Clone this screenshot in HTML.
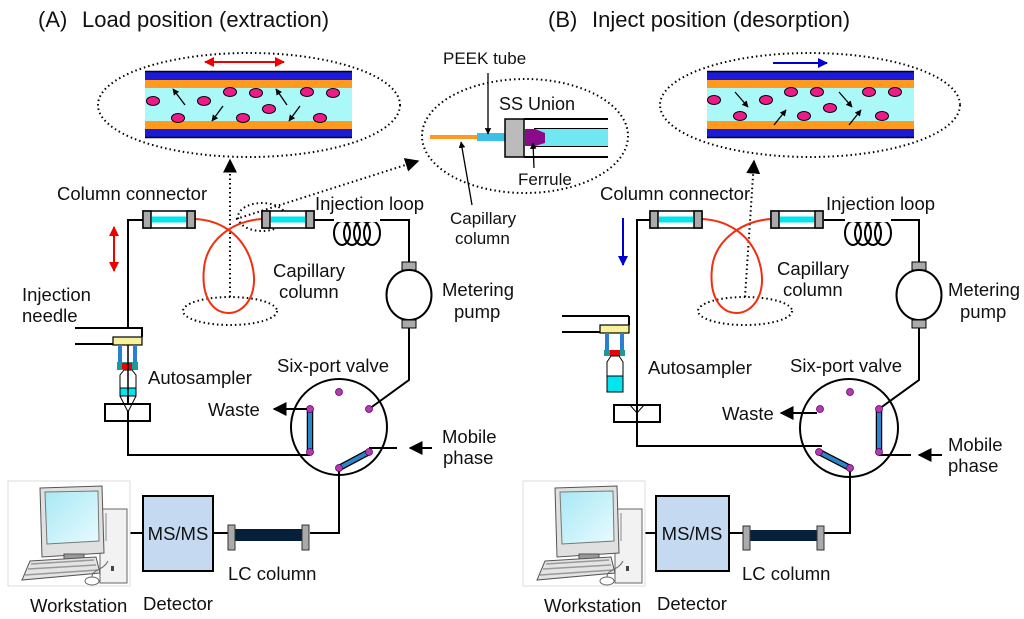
<!DOCTYPE html>
<html><head><meta charset="utf-8"><style>
html,body{margin:0;padding:0;background:#fff;}
svg{display:block;}
text{font-family:"Liberation Sans",Arial,sans-serif;fill:#111;}
</style></head><body>
<svg width="1024" height="619" viewBox="0 0 1024 619" xmlns="http://www.w3.org/2000/svg">
<defs>
<marker id="ab" viewBox="0 0 10 10" refX="9" refY="5" markerWidth="7" markerHeight="7" orient="auto-start-reverse"><path d="M0,0 L10,5 L0,10 z" fill="#000"/></marker>
<marker id="ar" viewBox="0 0 10 10" refX="9" refY="5" markerWidth="5" markerHeight="5" orient="auto-start-reverse"><path d="M0,0 L10,5 L0,10 z" fill="#e00"/></marker>
<marker id="abl" viewBox="0 0 10 10" refX="9" refY="5" markerWidth="5" markerHeight="5" orient="auto-start-reverse"><path d="M0,0 L10,5 L0,10 z" fill="#0000cc"/></marker>
<marker id="as" viewBox="0 0 10 10" refX="9" refY="5" markerWidth="5" markerHeight="5" orient="auto"><path d="M0,0 L10,5 L0,10 z" fill="#000"/></marker>
<linearGradient id="scr" x1="0" y1="0" x2="1" y2="1"><stop offset="0" stop-color="#a8e8f4"/><stop offset="1" stop-color="#e8fbff"/></linearGradient>
<g id="conn"><rect x="0" y="0" width="52" height="17" fill="#fff" stroke="#000" stroke-width="1.5"/><rect x="0" y="0" width="8" height="17" fill="#aaa" stroke="#000" stroke-width="1.5"/><rect x="44" y="0" width="8" height="17" fill="#aaa" stroke="#000" stroke-width="1.5"/><rect x="9" y="5.5" width="34" height="6" fill="#00e5ee"/></g>
<g id="coil" fill="none" stroke="#000" stroke-width="2"><ellipse cx="8" cy="12" rx="8" ry="12"/><ellipse cx="18" cy="12" rx="8" ry="12"/><ellipse cx="28" cy="12" rx="8" ry="12"/><ellipse cx="38" cy="12" rx="8" ry="12"/></g>
<g id="pump"><rect x="-7" y="0" width="14" height="8" fill="#aaa" stroke="#000" stroke-width="1"/><ellipse cx="0" cy="33" rx="22.5" ry="25" fill="#fff" stroke="#000" stroke-width="2"/><rect x="-7" y="58" width="14" height="8" fill="#aaa" stroke="#000" stroke-width="1"/></g>
<g id="tube"><rect x="0" y="0" width="207" height="67" fill="#aaf8f8"/><rect x="0" y="0" width="207" height="9" fill="#1a1ad8"/><rect x="0" y="9" width="207" height="8" fill="#ff9a1e"/><rect x="0" y="50" width="207" height="8" fill="#ff9a1e"/><rect x="0" y="58" width="207" height="9" fill="#1a1ad8"/><line x1="0" y1="0.5" x2="207" y2="0.5" stroke="#000" stroke-width="1.5"/><line x1="0" y1="66.5" x2="207" y2="66.5" stroke="#000" stroke-width="1.5"/></g>
<g id="ws"><rect x="0" y="0" width="122" height="105" fill="#fff" stroke="#ddd"/>
<rect x="92" y="28" width="27" height="74" fill="#f2f2f2" stroke="#666"/><line x1="98" y1="32" x2="98" y2="60" stroke="#888"/><rect x="103" y="85" width="3" height="5" fill="#444"/>
<polygon points="32,7 94,5 96,72 34,76" fill="#e0e0e0" stroke="#555"/><polygon points="37,11 90,10 91,60 39,63" fill="url(#scr)" stroke="#777"/>
<rect x="56" y="73" width="20" height="9" fill="#999" stroke="#555"/>
<polygon points="22,80 88,76 92,92 14,99" fill="#e4e4e4" stroke="#555"/>
<path d="M23,83 L86,79 M20,88 L88,84 M17,94 L90,89" stroke="#999" stroke-width="1.5"/>
<ellipse cx="84" cy="100" rx="7" ry="4" fill="#fff" stroke="#666"/><path d="M84,96 C84,88 95,90 100,80" fill="none" stroke="#666"/></g>
</defs>

<!-- ============ PANEL A ============ -->
<text x="38" y="27" font-size="22">(A)</text><text x="82" y="27" font-size="22">Load position (extraction)</text>
<ellipse cx="249" cy="105" rx="151" ry="52" fill="none" stroke="#000" stroke-width="2" stroke-dasharray="1.5,3"/>
<use href="#tube" x="145" y="71"/>
<line x1="205" y1="62" x2="284" y2="62" stroke="#e00" stroke-width="2" marker-start="url(#ar)" marker-end="url(#ar)"/>
<g fill="#ee1a8a" stroke="#000" stroke-width="1">
<ellipse cx="153" cy="101" rx="6.5" ry="4.5"/><ellipse cx="178" cy="118" rx="6.5" ry="4.5"/><ellipse cx="204" cy="101" rx="6.5" ry="4.5"/><ellipse cx="230" cy="92" rx="6.5" ry="4.5"/><ellipse cx="243" cy="118" rx="6.5" ry="4.5"/><ellipse cx="256" cy="93" rx="6.5" ry="4.5"/><ellipse cx="269" cy="109" rx="6.5" ry="4.5"/><ellipse cx="307" cy="92" rx="6.5" ry="4.5"/><ellipse cx="320" cy="118" rx="6.5" ry="4.5"/><ellipse cx="333" cy="93" rx="6.5" ry="4.5"/></g>
<g stroke="#000" stroke-width="1.3" marker-end="url(#as)">
<line x1="185" y1="105" x2="173" y2="89"/><line x1="223" y1="106" x2="212" y2="121"/><line x1="287" y1="105" x2="276" y2="89"/><line x1="300" y1="106" x2="289" y2="121"/></g>
<line x1="230" y1="297" x2="230" y2="160" stroke="#000" stroke-width="2" stroke-dasharray="1.5,3" marker-end="url(#ab)"/>
<ellipse cx="230" cy="311" rx="47" ry="14" fill="none" stroke="#000" stroke-width="2" stroke-dasharray="1.5,3"/>
<ellipse cx="262" cy="217" rx="24" ry="14" fill="none" stroke="#000" stroke-width="2" stroke-dasharray="1.5,3"/>
<line x1="236" y1="219" x2="418" y2="161" stroke="#000" stroke-width="2" stroke-dasharray="1.5,3" marker-end="url(#ab)"/>
<!-- union inset -->
<ellipse cx="525" cy="136" rx="103" ry="57" fill="none" stroke="#000" stroke-width="2" stroke-dasharray="1.5,3"/>
<line x1="430" y1="137" x2="478" y2="137" stroke="#ff9a1e" stroke-width="4"/>
<rect x="477" y="133" width="29" height="8" fill="#3cc0e8"/>
<rect x="534" y="129" width="74" height="17" fill="#6fe8f2"/>
<line x1="524" y1="119" x2="608" y2="119" stroke="#000" stroke-width="2"/><line x1="524" y1="157" x2="608" y2="157" stroke="#000" stroke-width="2"/>
<line x1="534" y1="128.5" x2="608" y2="128.5" stroke="#000"/><line x1="534" y1="146.5" x2="608" y2="146.5" stroke="#000"/>
<rect x="505" y="119" width="19" height="38" fill="#bbb" stroke="#000" stroke-width="1.5"/>
<polygon points="525,129 535,129 545,133 545,143 535,146 525,146" fill="#8a0a8a"/>
<text x="443" y="64" font-size="17">PEEK tube</text>
<line x1="488" y1="73" x2="488" y2="134" stroke="#000" stroke-width="1.3" marker-end="url(#as)"/>
<text x="499" y="110" font-size="18">SS Union</text>
<text x="518" y="185" font-size="17">Ferrule</text>
<line x1="534" y1="168" x2="533" y2="143" stroke="#000" stroke-width="1.3" marker-end="url(#as)"/>
<text x="450" y="224" font-size="17">Capillary</text><text x="455" y="244" font-size="17">column</text>
<line x1="472" y1="205" x2="461" y2="142" stroke="#000" stroke-width="1.3" marker-end="url(#as)"/>
<!-- flow path A -->
<g fill="none" stroke="#000" stroke-width="2">
<polyline points="143,220 128,220 128,328 75,328"/><polyline points="128,328 142,328 142,337"/><line x1="75" y1="344" x2="113" y2="344"/>
<polyline points="313,220 409,220 409,262"/>
<polyline points="409,328 409,380 369,409"/>
<polyline points="128,395 128,455 310,455"/>
<polyline points="369,448 397,448"/>
<polyline points="339,468 339,533 310,533"/>
<line x1="228" y1="533" x2="213" y2="533"/><line x1="143" y1="533" x2="122" y2="533"/>
</g>
<path d="M195,219 C218,220 240,232 250,258 C262,292 245,313 229,313 C212,313 201,296 204,268 C207,240 232,221 262,219" fill="none" stroke="#f03010" stroke-width="2"/>
<use href="#conn" x="143" y="211"/><use href="#conn" x="262" y="211"/>
<use href="#coil" x="334" y="221"/>
<rect x="334" y="219" width="46" height="3" fill="#fff"/>
<use href="#pump" x="409" y="262"/>
<line x1="114" y1="227" x2="114" y2="271" stroke="#e00" stroke-width="2" marker-start="url(#ar)" marker-end="url(#ar)"/>
<text x="57" y="200" font-size="18.5">Column connector</text>
<text x="315" y="210" font-size="18.5">Injection loop</text>
<text x="273" y="277" font-size="18.5">Capillary</text><text x="279" y="298" font-size="18.5">column</text>
<text x="442" y="296" font-size="18.5">Metering</text><text x="454" y="318" font-size="18.5">pump</text>
<text x="22" y="301" font-size="18.5">Injection</text><text x="22" y="322" font-size="18.5">needle</text>
<!-- needle/vial A -->
<rect x="113" y="337" width="29" height="8" fill="#f6f29a" stroke="#000" stroke-width="1.2"/>
<rect x="118" y="345" width="4" height="17" fill="#2a7fd0"/><rect x="133" y="345" width="4" height="17" fill="#2a7fd0"/>
<rect x="117" y="362" width="21" height="8" fill="#1a9a9a"/><rect x="122" y="363" width="10" height="6" fill="#e00"/>
<path d="M120,375 L124,370 L132,370 L136,375 L136,395 L120,395 Z" fill="#fff" stroke="#000"/>
<rect x="120" y="388" width="16" height="8" fill="#00e5ee" stroke="#000"/>
<line x1="128" y1="345" x2="128" y2="398" stroke="#000" stroke-width="1.5"/>
<rect x="105" y="404" width="45" height="17" fill="#fff" stroke="#000" stroke-width="2"/>
<path d="M120,396 L128,412 L136,396" fill="none" stroke="#000"/>
<line x1="128" y1="410" x2="128" y2="455" stroke="#000" stroke-width="2"/>
<text x="148" y="384" font-size="18.5">Autosampler</text>
<text x="277" y="372" font-size="18.5">Six-port valve</text>
<!-- valve A -->
<circle cx="339" cy="427" r="48" fill="none" stroke="#000" stroke-width="2"/>
<line x1="310" y1="409" x2="310" y2="452" stroke="#000" stroke-width="6.5"/><line x1="310" y1="409" x2="310" y2="452" stroke="#2a86c8" stroke-width="4"/>
<line x1="339" y1="468" x2="369" y2="452" stroke="#000" stroke-width="6.5"/><line x1="339" y1="468" x2="369" y2="452" stroke="#2a86c8" stroke-width="4"/>
<g fill="#b03cb0" stroke="#600060" stroke-width="0.8"><circle cx="339" cy="392" r="3.5"/><circle cx="369" cy="409" r="3.5"/><circle cx="310" cy="409" r="3.5"/><circle cx="310" cy="452" r="3.5"/><circle cx="369" cy="452" r="3.5"/><circle cx="339" cy="468" r="3.5"/></g>
<line x1="307" y1="409" x2="274" y2="409" stroke="#000" stroke-width="2" marker-end="url(#ab)"/>
<text x="208" y="416" font-size="18.5">Waste</text>
<line x1="432" y1="448" x2="410" y2="448" stroke="#000" stroke-width="2" marker-end="url(#ab)"/>
<text x="442" y="443" font-size="18.5">Mobile</text><text x="443" y="464" font-size="18.5">phase</text>
<!-- bottom A -->
<rect x="235" y="529" width="67" height="12" fill="#06203a"/>
<rect x="228" y="525" width="7" height="25" fill="#aaa" stroke="#333"/><rect x="302" y="525" width="7" height="25" fill="#aaa" stroke="#333"/>
<rect x="143" y="496" width="70" height="75" fill="#c5d9f1" stroke="#000" stroke-width="2"/>
<text x="178" y="540" font-size="18.5" text-anchor="middle">MS/MS</text>
<use href="#ws" x="8" y="481"/>
<text x="228" y="580" font-size="18.5">LC column</text>
<text x="30" y="612" font-size="18.5">Workstation</text>
<text x="143" y="610" font-size="18.5">Detector</text>

<!-- ============ PANEL B ============ -->
<text x="548" y="27" font-size="22">(B)</text><text x="592" y="27" font-size="22">Inject position (desorption)</text>
<ellipse cx="810" cy="105" rx="150" ry="52" fill="none" stroke="#000" stroke-width="2" stroke-dasharray="1.5,3"/>
<use href="#tube" x="707" y="71"/>
<line x1="773" y1="63" x2="827" y2="63" stroke="#0000cc" stroke-width="2" marker-end="url(#abl)"/>
<g fill="#ee1a8a" stroke="#000" stroke-width="1">
<ellipse cx="714" cy="100" rx="6.5" ry="4.5"/><ellipse cx="740" cy="116" rx="6.5" ry="4.5"/><ellipse cx="766" cy="100" rx="6.5" ry="4.5"/><ellipse cx="791" cy="92" rx="6.5" ry="4.5"/><ellipse cx="804" cy="116" rx="6.5" ry="4.5"/><ellipse cx="817" cy="92" rx="6.5" ry="4.5"/><ellipse cx="830" cy="108" rx="6.5" ry="4.5"/><ellipse cx="869" cy="92" rx="6.5" ry="4.5"/><ellipse cx="882" cy="116" rx="6.5" ry="4.5"/><ellipse cx="895" cy="92" rx="6.5" ry="4.5"/></g>
<g stroke="#000" stroke-width="1.3" marker-end="url(#as)">
<line x1="735" y1="92" x2="748" y2="107"/><line x1="774" y1="125" x2="786" y2="110"/><line x1="839" y1="92" x2="852" y2="107"/><line x1="849" y1="125" x2="861" y2="110"/></g>
<line x1="745" y1="297" x2="754" y2="161" stroke="#000" stroke-width="2" stroke-dasharray="1.5,3" marker-end="url(#ab)"/>
<ellipse cx="745" cy="311" rx="47" ry="14" fill="none" stroke="#000" stroke-width="2" stroke-dasharray="1.5,3"/>
<g fill="none" stroke="#000" stroke-width="2">
<polyline points="650,220 637,220 637,446 822,446"/>
<polyline points="629,316 629,325"/><line x1="562" y1="316" x2="629" y2="316"/><line x1="562" y1="332" x2="600" y2="332"/>
<polyline points="824,220 919,220 919,262"/>
<polyline points="919,328 919,380 879,409"/>
<polyline points="879,455 911,455"/>
<polyline points="850,468 850,533 824,533"/>
<line x1="743" y1="533" x2="729" y2="533"/><line x1="656" y1="533" x2="636" y2="533"/>
</g>
<path d="M702,219 C725,220 748,232 758,258 C770,292 753,313 737,313 C720,313 709,296 712,268 C715,240 742,221 771,219" fill="none" stroke="#f03010" stroke-width="2"/>
<use href="#conn" x="650" y="211"/><use href="#conn" x="771" y="211"/>
<use href="#coil" x="845" y="221"/>
<rect x="845" y="219" width="46" height="3" fill="#fff"/>
<use href="#pump" x="919" y="262"/>
<line x1="623" y1="218" x2="623" y2="265" stroke="#0000cc" stroke-width="2" marker-end="url(#abl)"/>
<text x="600" y="200" font-size="18.5">Column connector</text>
<text x="826" y="210" font-size="18.5">Injection loop</text>
<text x="777" y="275" font-size="18.5">Capillary</text><text x="783" y="296" font-size="18.5">column</text>
<text x="948" y="296" font-size="18.5">Metering</text><text x="960" y="318" font-size="18.5">pump</text>
<!-- needle/vial B -->
<rect x="600" y="325" width="29" height="8" fill="#f6f29a" stroke="#000" stroke-width="1.2"/>
<rect x="605" y="333" width="4" height="17" fill="#2a7fd0"/><rect x="620" y="333" width="4" height="17" fill="#2a7fd0"/>
<rect x="604" y="350" width="21" height="6" fill="#1a9a9a"/><rect x="610" y="350" width="10" height="6" fill="#e00"/>
<path d="M607,362 L611,356 L619,356 L623,362 L623,392 L607,392 Z" fill="#fff" stroke="#000"/>
<rect x="607" y="376" width="16" height="16" fill="#00e5ee" stroke="#000"/>
<rect x="614" y="405" width="46" height="17" fill="#fff" stroke="#000" stroke-width="2"/>
<path d="M630,405 L637,413 L644,405" fill="none" stroke="#000"/>
<line x1="637" y1="405" x2="637" y2="422" stroke="#000" stroke-width="2"/>
<text x="648" y="374" font-size="18.5">Autosampler</text>
<text x="790" y="372" font-size="18.5">Six-port valve</text>
<!-- valve B -->
<circle cx="849" cy="428" r="49" fill="none" stroke="#000" stroke-width="2"/>
<line x1="879" y1="409" x2="879" y2="452" stroke="#000" stroke-width="6.5"/><line x1="879" y1="409" x2="879" y2="452" stroke="#2a86c8" stroke-width="4"/>
<line x1="819" y1="452" x2="850" y2="468" stroke="#000" stroke-width="6.5"/><line x1="819" y1="452" x2="850" y2="468" stroke="#2a86c8" stroke-width="4"/>
<g fill="#b03cb0" stroke="#600060" stroke-width="0.8"><circle cx="850" cy="392" r="3.5"/><circle cx="820" cy="409" r="3.5"/><circle cx="879" cy="409" r="3.5"/><circle cx="819" cy="452" r="3.5"/><circle cx="879" cy="452" r="3.5"/><circle cx="850" cy="468" r="3.5"/></g>
<line x1="817" y1="413" x2="781" y2="413" stroke="#000" stroke-width="2" marker-end="url(#ab)"/>
<text x="722" y="420" font-size="18.5">Waste</text>
<line x1="942" y1="455" x2="919" y2="455" stroke="#000" stroke-width="2" marker-end="url(#ab)"/>
<text x="948" y="451" font-size="18.5">Mobile</text><text x="948" y="472" font-size="18.5">phase</text>
<!-- bottom B -->
<rect x="750" y="530" width="67" height="11" fill="#06203a"/>
<rect x="743" y="526" width="7" height="24" fill="#aaa" stroke="#333"/><rect x="817" y="526" width="7" height="24" fill="#aaa" stroke="#333"/>
<rect x="656" y="496" width="73" height="75" fill="#c5d9f1" stroke="#000" stroke-width="2"/>
<text x="692" y="540" font-size="18.5" text-anchor="middle">MS/MS</text>
<use href="#ws" x="523" y="481"/>
<text x="742" y="580" font-size="18.5">LC column</text>
<text x="544" y="612" font-size="18.5">Workstation</text>
<text x="657" y="610" font-size="18.5">Detector</text>
</svg>
</body></html>
